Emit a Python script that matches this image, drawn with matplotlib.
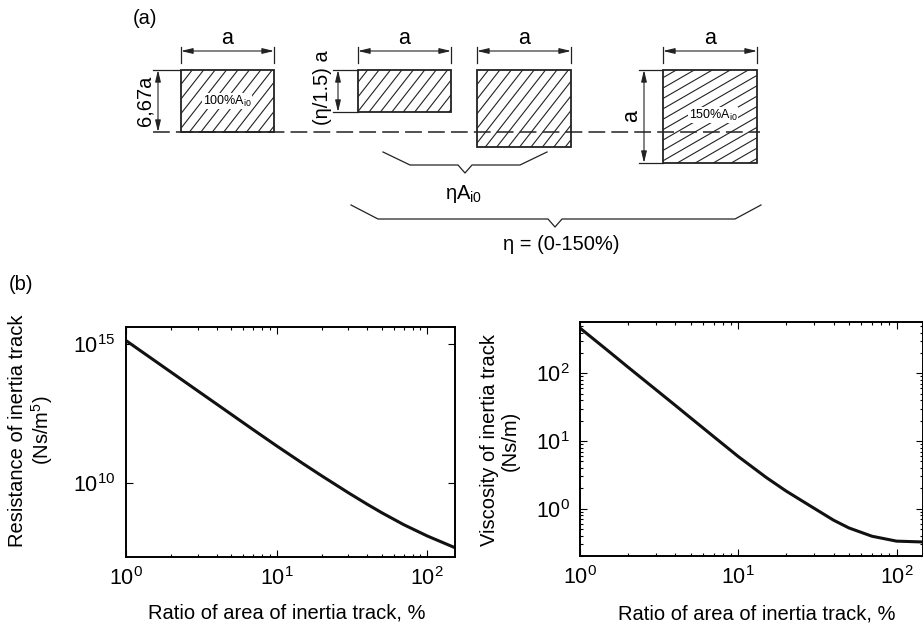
import numpy as np
import matplotlib
matplotlib.use("Agg")
import matplotlib.pyplot as plt
from matplotlib.patches import Rectangle
from matplotlib.ticker import FixedLocator, LogLocator, NullLocator, LogFormatterMathtext, NullFormatter

plt.rcParams['font.family'] = ['Liberation Sans', 'DejaVu Sans']
plt.rcParams['mathtext.fontset'] = 'custom'
plt.rcParams['mathtext.rm'] = 'Liberation Sans'
plt.rcParams['mathtext.it'] = 'Liberation Sans:italic'
plt.rcParams['font.size'] = 14

# data (b)
ratio = [1, 1.5, 2, 3, 4, 5, 7, 10, 15, 20, 30, 40, 50, 70, 100, 150]
resistance = [1.32e15, 2.82e14, 9.44e13, 2.02e13, 6.78e12, 2.90e12, 8.07e11,
              2.12e11, 4.83e10, 1.74e10, 4.30e9, 1.66e9, 8.2e8, 3.04e8,
              1.20e8, 4.73e7]
viscosity = [468, 217, 125, 58.1, 33.7, 22.0, 11.6, 5.90, 2.90, 1.83,
             1.02, 0.676, 0.519, 0.391, 0.331, 0.321]

xlabel = "Ratio of area of inertia track, %"
ylabel_res = "Resistance of inertia track\n(Ns/m$^5$)"
ylabel_vis = "Viscosity of inertia track\n(Ns/m)"

fig = plt.figure(figsize=(9.23, 6.25), dpi=100)

# ---- (a) schematic, drawn in pixel coordinates ----
sk = fig.add_axes([0, 0, 1, 1])
sk.set_xlim(0, 923)
sk.set_ylim(625, 0)
sk.axis("off")

INK = "#222222"


def hatch_rect(x0, y0, w, h, angle, step=9.0):
    rect = Rectangle((x0, y0), w, h, fill=False, ec=INK, lw=1.3, zorder=3)
    sk.add_patch(rect)
    t = np.deg2rad(angle)
    d = np.array([np.cos(t), -np.sin(t)])
    n = np.array([np.sin(t), np.cos(t)])
    c = np.array([x0 + w / 2, y0 + h / 2])
    half = np.hypot(w, h) / 2
    for off in np.arange(-half, half + step, step):
        p = c + off * n
        a, b = p - d * 2 * half, p + d * 2 * half
        ln, = sk.plot([a[0], b[0]], [a[1], b[1]], color=INK, lw=0.8, zorder=2)
        ln.set_clip_path(rect)


def dim(x1, y1, x2, y2):
    sk.annotate("", xy=(x2, y2), xytext=(x1, y1),
                arrowprops=dict(arrowstyle="<|-|>,head_length=0.5,head_width=0.12",
                                color=INK, lw=0.8, shrinkA=0, shrinkB=0))


def seg(xs, ys, **kw):
    sk.plot(xs, ys, color=INK, lw=kw.pop("lw", 0.9), **kw)


hatch_rect(181, 70, 93, 62, 52)
hatch_rect(358, 70, 93, 42, 52)
hatch_rect(477, 70, 94, 77, 52)
hatch_rect(663, 70, 94, 93, 30)

# width dimensions "a"
for xl, xr in [(181, 274), (358, 451), (477, 571), (663, 757)]:
    seg([xl, xl], [47, 63])
    seg([xr, xr], [47, 63])
    dim(xl, 51, xr, 51)
    sk.text((xl + xr) / 2, 39, "a", ha="center", va="center", fontsize=15.5)

# height dimensions
seg([153, 181], [70, 70])
dim(158, 70, 158, 132)
sk.text(145, 101, "6,67a", rotation=90, ha="center", va="center", fontsize=14.5)

seg([333, 358], [70, 70])
seg([333, 358], [112, 112])
dim(338, 70, 338, 112)
sk.text(322, 88, "(η/1.5) a", rotation=90, ha="center", va="center", fontsize=14.5)

seg([639, 663], [70, 70])
seg([639, 663], [163, 163])
dim(644, 70, 644, 163)
sk.text(632, 116, "a", rotation=90, ha="center", va="center", fontsize=15.5)

# base line
seg([153, 760], [132, 132], lw=1.1, dashes=(11, 4), zorder=4)

sk.text(227, 101, "100%A$_{\\mathrm{i0}}$", ha="center", va="center", fontsize=9,
        bbox=dict(fc="white", ec="none", pad=0.3), zorder=5)
sk.text(713, 115, "150%A$_{\\mathrm{i0}}$", ha="center", va="center", fontsize=9,
        bbox=dict(fc="white", ec="none", pad=0.3), zorder=5)

# braces
seg([383, 410, 458, 465, 472, 520, 547], [152, 165, 165, 173, 165, 165, 152])
seg([351, 378, 548, 555, 562, 735, 761], [205, 219, 219, 227, 219, 219, 205])
sk.text(464, 194, "ηA$_{\\mathrm{i0}}$", ha="center", va="center", fontsize=14.5)
sk.text(561, 245, "η = (0-150%)", ha="center", va="center", fontsize=14.5)

sk.text(145, 18, "(a)", ha="center", va="center", fontsize=14.5)
sk.text(21, 285, "(b)", ha="center", va="center", fontsize=14.5)

# ---- (b) curves ----
ax1 = fig.add_axes([126 / 923, (625 - 557) / 625, 329 / 923, 230 / 625])
ax2 = fig.add_axes([580 / 923, (625 - 556) / 625, 343 / 923, 234 / 625])

ax1.loglog(ratio, resistance, color="#111111", lw=2.2)
ax2.loglog(ratio, viscosity, color="#111111", lw=2.2)

ax1.set_xlim(1, 153)
ax1.set_ylim(10 ** 7.32, 10 ** 15.61)
ax2.set_xlim(1, 147)
ax2.set_ylim(10 ** -0.70, 10 ** 2.76)

ax1.yaxis.set_major_locator(FixedLocator([1e10, 1e15]))
ax1.yaxis.set_minor_locator(NullLocator())
ax2.yaxis.set_major_locator(FixedLocator([1, 10, 100]))
ax2.yaxis.set_minor_locator(LogLocator(base=10, subs=np.arange(2, 10)))

for ax in (ax1, ax2):
    ax.xaxis.set_major_locator(FixedLocator([1, 10, 100]))
    ax.xaxis.set_minor_locator(LogLocator(base=10, subs=np.arange(2, 10)))
    ax.xaxis.set_major_formatter(LogFormatterMathtext())
    ax.yaxis.set_major_formatter(LogFormatterMathtext())
    ax.xaxis.set_minor_formatter(NullFormatter())
    ax.yaxis.set_minor_formatter(NullFormatter())
    ax.tick_params(which="both", direction="in", top=True, right=True,
                   labelsize=15.5, width=0.8)
    ax.tick_params(which="major", length=5, pad=7.5)
    ax.tick_params(which="minor", length=2.5)
    for s in ax.spines.values():
        s.set_linewidth(1.4)
    ax.set_xlabel(xlabel, fontsize=14.5)

ax1.set_ylabel(ylabel_res, fontsize=14.5, linespacing=1.1)
ax2.set_ylabel(ylabel_vis, fontsize=14.5, linespacing=1.1)
ax1.yaxis.set_label_coords(-0.216, 0.55)
ax2.yaxis.set_label_coords(-0.175, 0.494)
ax1.xaxis.set_label_coords(0.49, -0.204)
ax2.xaxis.set_label_coords(0.516, -0.206)

fig.savefig("out.png", dpi=100)
